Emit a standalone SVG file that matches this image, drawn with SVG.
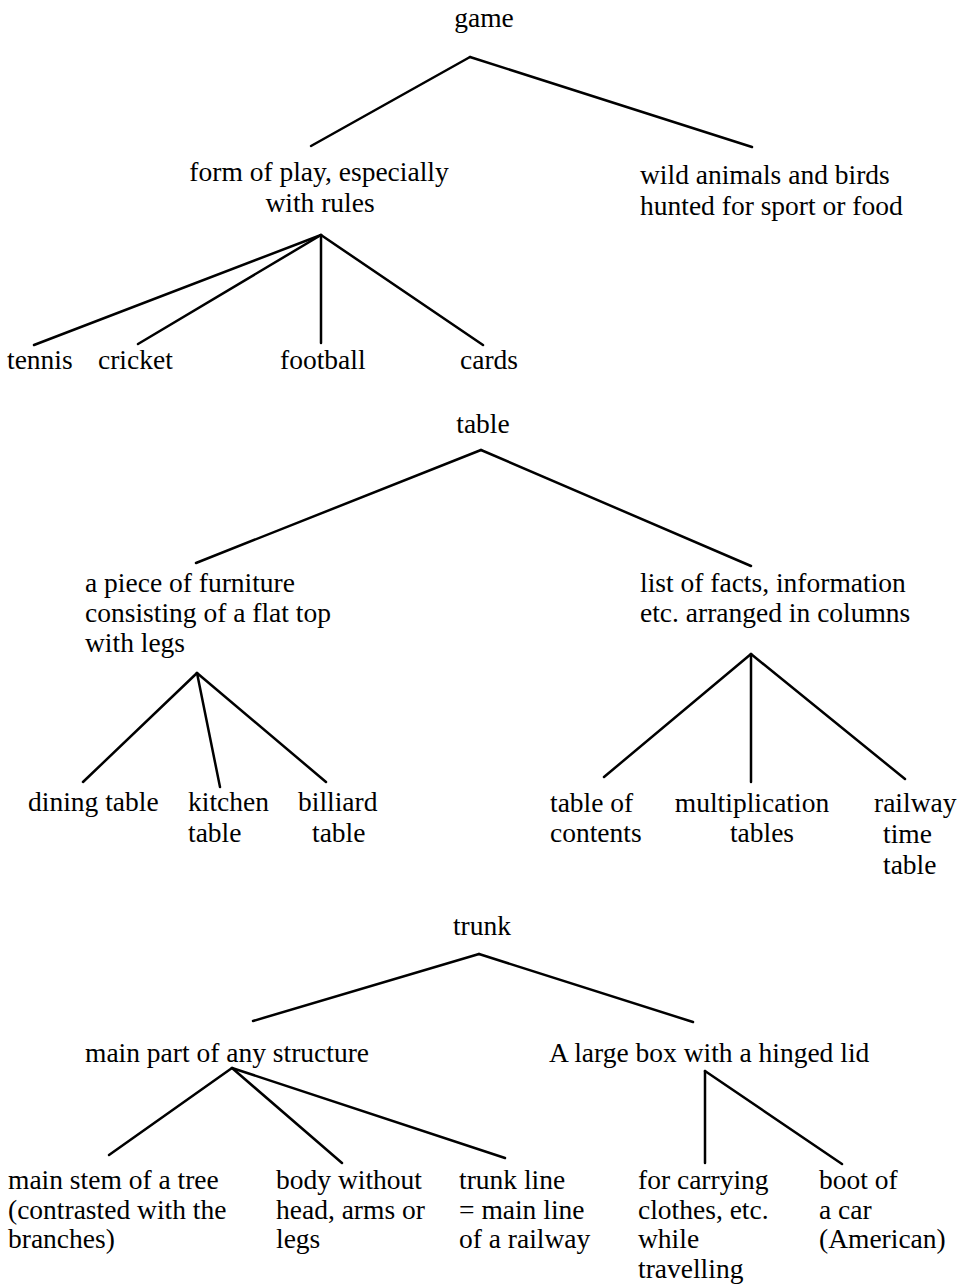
<svg xmlns="http://www.w3.org/2000/svg" width="961" height="1285" viewBox="0 0 961 1285">
<style>
text{font-family:"Liberation Serif","Times New Roman",serif;font-size:27.5px;fill:#000}
.c{text-anchor:middle}
line{stroke:#000;stroke-width:2.5;stroke-linecap:round}
</style>
<rect width="961" height="1285" fill="#fff"/>
<g id="connectors">
<line x1="470" y1="57" x2="311" y2="146"/>
<line x1="470" y1="57" x2="752" y2="147"/>
<line x1="321" y1="235" x2="34" y2="345"/>
<line x1="321" y1="235" x2="138" y2="344"/>
<line x1="321" y1="235" x2="321" y2="343"/>
<line x1="321" y1="235" x2="483" y2="345"/>
<line x1="481" y1="450" x2="196" y2="563"/>
<line x1="481" y1="450" x2="751" y2="566"/>
<line x1="197" y1="673" x2="83" y2="782"/>
<line x1="197" y1="673" x2="220" y2="787"/>
<line x1="197" y1="673" x2="326" y2="782"/>
<line x1="751" y1="654" x2="604" y2="777"/>
<line x1="751" y1="654" x2="751" y2="782"/>
<line x1="751" y1="654" x2="905" y2="779"/>
<line x1="479" y1="954" x2="253" y2="1021"/>
<line x1="479" y1="954" x2="693" y2="1022"/>
<line x1="232" y1="1068" x2="109" y2="1155"/>
<line x1="232" y1="1068" x2="342" y2="1163"/>
<line x1="232" y1="1068" x2="505" y2="1158"/>
<line x1="705" y1="1071" x2="705" y2="1163"/>
<line x1="705" y1="1071" x2="842" y2="1164"/>
</g>
<g id="game"><text x="484" y="27" class="c">game</text></g>
<g id="form-of-play"><text x="319" y="181" class="c">form of play, especially</text><text x="320" y="212" class="c">with rules</text></g>
<g id="wild-animals"><text x="640" y="184">wild animals and birds</text><text x="640" y="215">hunted for sport or food</text></g>
<g id="tennis"><text x="7" y="369">tennis</text></g>
<g id="cricket"><text x="98" y="369">cricket</text></g>
<g id="football"><text x="280" y="369">football</text></g>
<g id="cards"><text x="460" y="369">cards</text></g>
<g id="table"><text x="483" y="433" class="c">table</text></g>
<g id="furniture"><text x="85" y="592">a piece of furniture</text><text x="85" y="622">consisting of a flat top</text><text x="85" y="652">with legs</text></g>
<g id="list-of-facts"><text x="640" y="592">list of facts, information</text><text x="640" y="622">etc. arranged in columns</text></g>
<g id="dining-table"><text x="28" y="811">dining table</text></g>
<g id="kitchen-table"><text x="188" y="811">kitchen</text><text x="188" y="842">table</text></g>
<g id="billiard-table"><text x="298" y="811">billiard</text><text x="312" y="842">table</text></g>
<g id="table-of-contents"><text x="550" y="812">table of</text><text x="550" y="842">contents</text></g>
<g id="multiplication-tables"><text x="752" y="812" class="c">multiplication</text><text x="762" y="842" class="c">tables</text></g>
<g id="railway-time-table"><text x="874" y="812">railway</text><text x="883" y="843">time</text><text x="883" y="874">table</text></g>
<g id="trunk"><text x="482" y="935" class="c">trunk</text></g>
<g id="main-part"><text x="85" y="1062">main part of any structure</text></g>
<g id="large-box"><text x="549" y="1062">A large box with a hinged lid</text></g>
<g id="main-stem"><text x="8" y="1189">main stem of a tree</text><text x="8" y="1219">(contrasted with the</text><text x="8" y="1248">branches)</text></g>
<g id="body"><text x="276" y="1189">body without</text><text x="276" y="1219">head, arms or</text><text x="276" y="1248">legs</text></g>
<g id="trunk-line"><text x="459" y="1189">trunk line</text><text x="459" y="1219">= main line</text><text x="459" y="1248">of a railway</text></g>
<g id="carrying"><text x="638" y="1189">for carrying</text><text x="638" y="1219">clothes, etc.</text><text x="638" y="1248">while</text><text x="638" y="1278">travelling</text></g>
<g id="boot"><text x="819" y="1189">boot of</text><text x="819" y="1219">a car</text><text x="819" y="1248">(American)</text></g>
</svg>
